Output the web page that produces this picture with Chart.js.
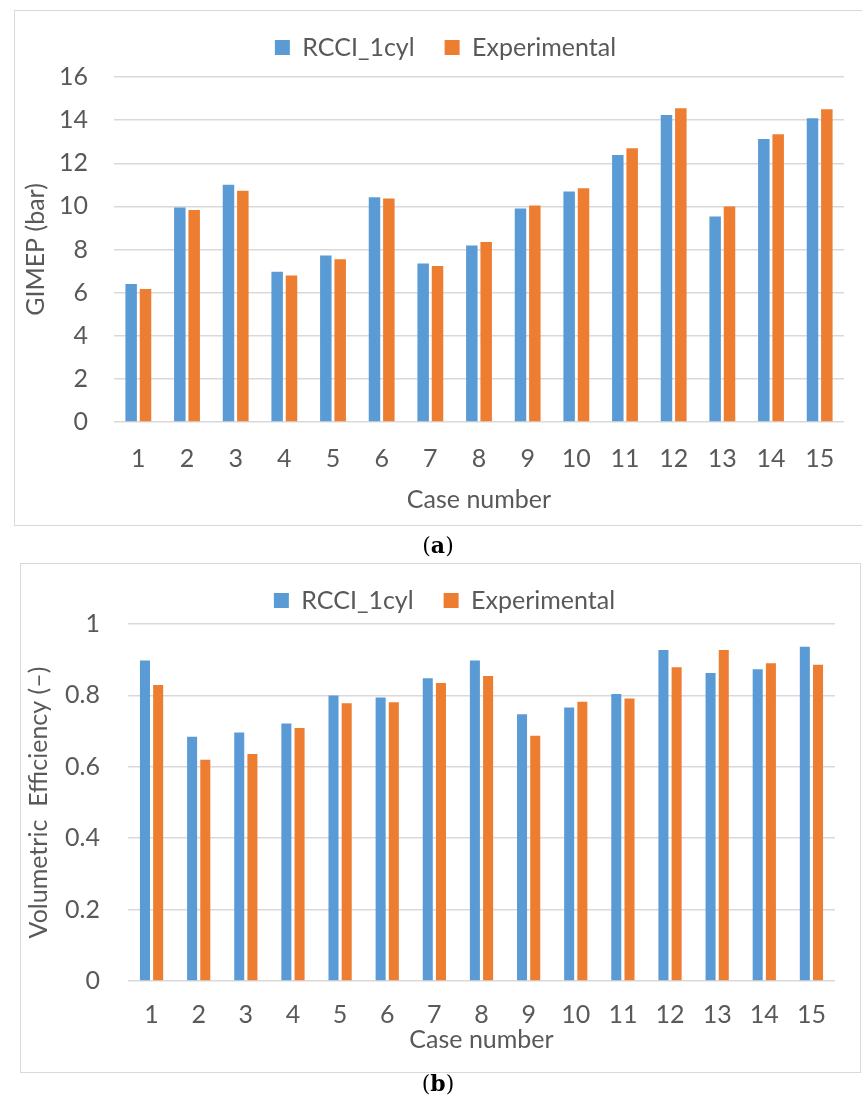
<!DOCTYPE html>
<html>
<head>
<meta charset="utf-8">
<script src="https://cdn.jsdelivr.net/npm/chart.js@4.4.1/dist/chart.umd.min.js"></script>
<style>
  html, body { margin: 0; padding: 0; background: #fff; }
  body { width: 862px; height: 1104px; position: relative; overflow: hidden; font-family: Lato, sans-serif; }
  .frame { position: absolute; border: 1.5px solid #d9d9d9; box-sizing: border-box; }
  canvas { position: absolute; left: 0; }
  .cap { position: absolute; width: 862px; text-align: center; font-family: "DejaVu Serif", "Liberation Serif", serif; font-size: 22px; color: #000; }
</style>
</head>
<body>
<div class="frame" style="left:14px; top:10px; width:860px; height:516px;"></div>
<div class="frame" style="left:20px; top:563px; width:841px; height:510px;"></div>
<canvas id="c1" width="862" height="530" style="top:0px;"></canvas>
<canvas id="c2" width="862" height="525" style="top:555px;"></canvas>
<div class="cap" style="top:532px; left:7px;">(<b>a</b>)</div>
<div class="cap" style="top:1070px; left:7px;">(<b>b</b>)</div>
<script>
const cases = ['1','2','3','4','5','6','7','8','9','10','11','12','13','14','15'];
const seriesNames = ['RCCI_1cyl', 'Experimental'];
const gimepRCCI = [6.40, 9.95, 11.00, 6.97, 7.72, 10.42, 7.35, 8.18, 9.90, 10.69, 12.38, 14.24, 9.53, 13.13, 14.09];
const gimepExp  = [6.17, 9.83, 10.73, 6.80, 7.55, 10.36, 7.24, 8.35, 10.04, 10.84, 12.69, 14.55, 10.00, 13.34, 14.50];
const veRCCI = [0.898, 0.684, 0.696, 0.721, 0.800, 0.794, 0.848, 0.898, 0.747, 0.766, 0.804, 0.927, 0.863, 0.873, 0.936];
const veExp  = [0.829, 0.620, 0.636, 0.709, 0.778, 0.781, 0.835, 0.854, 0.687, 0.782, 0.791, 0.879, 0.927, 0.890, 0.886];
const gimepTickLabels = ['0','2','4','6','8','10','12','14','16'];
const veTickLabels = ['0','0.2','0.4','0.6','0.8','1'];
const gimepTicks = { min: 0, max: 16, step: 2, labels: gimepTickLabels };
const veTicks = { min: 0, max: 1, step: 0.2, labels: veTickLabels };

const BLUE = '#5B9BD5', ORANGE = '#ED7D31', TXT = '#595959', GRID = '#d9d9d9';
const FONT = 'Lato, sans-serif';

function legendTweak(height, shift) {
  return {
    id: 'legendTweak',
    afterInit(chart) {
      const lg = chart.legend;
      const f = lg.fit.bind(lg);
      lg.fit = function () { f(); this.height = height; };
    },
    afterLayout(chart) {
      chart.legend.left += shift;
      chart.legend.right += shift;
    }
  };
}

function makeChart(id, a, b, yr, geo) {
  return new Chart(document.getElementById(id), {
    type: 'bar',
    data: {
      labels: cases,
      datasets: [
        { label: seriesNames[0], data: a, backgroundColor: BLUE, categoryPercentage: geo.cat, barPercentage: geo.bar },
        { label: seriesNames[1], data: b, backgroundColor: ORANGE, categoryPercentage: geo.cat, barPercentage: geo.bar }
      ]
    },
    options: {
      responsive: false,
      animation: false,
      devicePixelRatio: 1,
      layout: { padding: geo.pad },
      plugins: {
        legend: {
          position: 'top',
          labels: { boxWidth: 15, boxHeight: 15, padding: 30, color: TXT, font: { family: FONT, size: 25 } }
        },
        tooltip: { enabled: false }
      },
      scales: {
        x: {
          grid: { display: false, drawTicks: false },
          border: { display: false },
          ticks: { color: TXT, font: { family: FONT, size: 25 }, padding: geo.xTickPad, maxRotation: 0, autoSkip: false },
          title: { display: true, text: 'Case number', color: TXT, font: { family: FONT, size: 25 }, padding: { top: 0, bottom: geo.xTitlePad } },
          afterFit(s) { s.height = geo.xH; }
        },
        y: {
          min: yr.min, max: yr.max,
          grid: { color: GRID, lineWidth: 1.5, drawTicks: false },
          border: { display: false },
          ticks: {
            stepSize: yr.step, color: TXT, font: { family: FONT, size: 25 }, padding: geo.yTickPad,
            callback: (v, i) => yr.labels[i]
          },
          title: { display: true, text: geo.yTitle, color: TXT, font: { family: FONT, size: 25 }, padding: { top: geo.yTitlePad, bottom: 0 } },
          afterFit(s) { s.width = geo.yW; }
        }
      }
    },
    plugins: [legendTweak(geo.legendH, geo.legendShift)]
  });
}

makeChart('c1', gimepRCCI, gimepExp, gimepTicks, {
  cat: 0.59, bar: 0.8,
  pad: { top: 5, left: 15, right: 18, bottom: 5 },
  legendH: 72, legendShift: 16,
  xH: 103, xTickPad: 22, xTitlePad: 10,
  yW: 99, yTickPad: 26, yTitlePad: 6,
  yTitle: 'GIMEP (bar)'
});

makeChart('c2', veRCCI, veExp, veTicks, {
  cat: 0.56, bar: 0.76,
  pad: { top: 3, left: 20, right: 27, bottom: 8 },
  legendH: 66, legendShift: 17,
  xH: 91, xTickPad: 19, xTitlePad: 17,
  yW: 108, yTickPad: 28, yTitlePad: 4,
  yTitle: 'Volumetric  Efficiency (–)'
});
</script>
</body>
</html>
